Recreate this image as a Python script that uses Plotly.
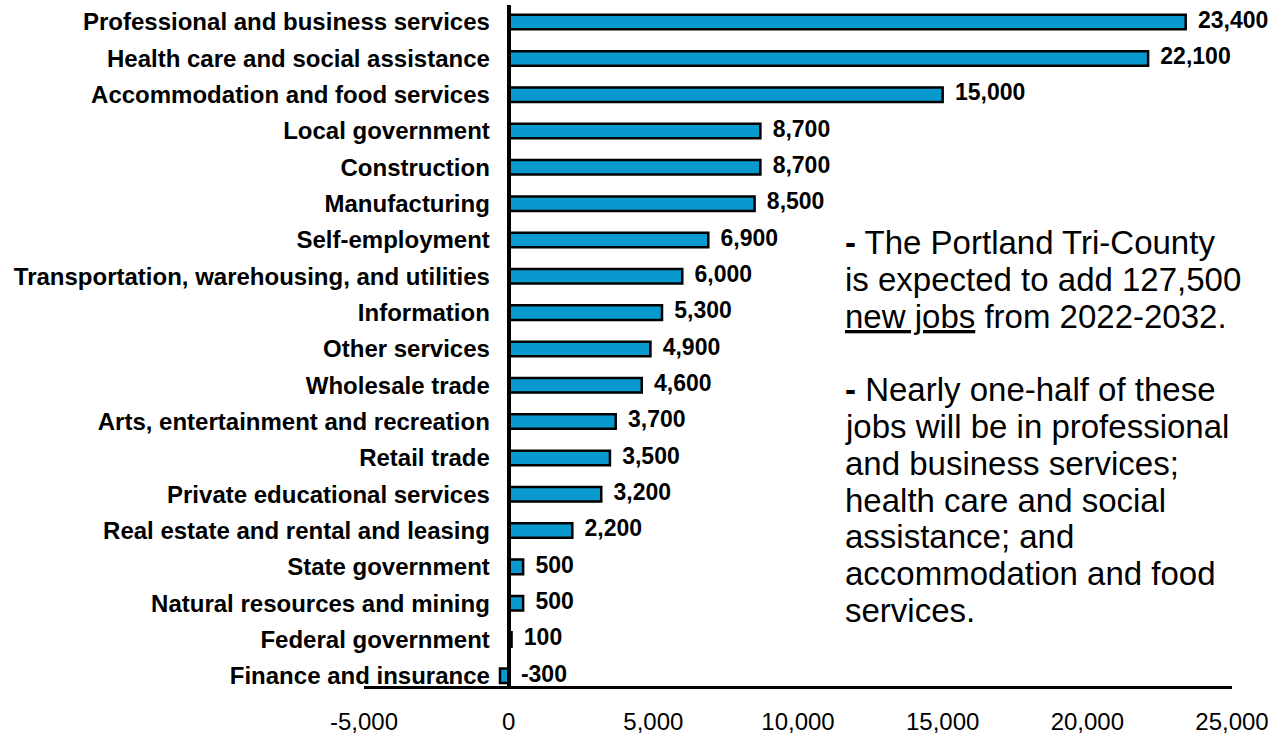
import plotly.graph_objects as go

categories = [
    "Professional and business services",
    "Health care and social assistance",
    "Accommodation and food services",
    "Local government",
    "Construction",
    "Manufacturing",
    "Self-employment",
    "Transportation, warehousing, and utilities",
    "Information",
    "Other services",
    "Wholesale trade",
    "Arts, entertainment and recreation",
    "Retail trade",
    "Private educational services",
    "Real estate and rental and leasing",
    "State government",
    "Natural resources and mining",
    "Federal government",
    "Finance and insurance",
]
values = [23400, 22100, 15000, 8700, 8700, 8500, 6900, 6000, 5300, 4900,
          4600, 3700, 3500, 3200, 2200, 500, 500, 100, -300]
tick_vals = [-5000, 0, 5000, 10000, 15000, 20000, 25000]
tick_text = ["-5,000", "0", "5,000", "10,000", "15,000", "20,000", "25,000"]

note_lines = [
    "<b>-</b> The Portland Tri-County",
    "is expected to add 127,500",
    "<u>new jobs</u> from 2022-2032.",
    "",
    "<b>-</b> Nearly one-half of these",
    "jobs will be in professional",
    "and business services;",
    "health care and social",
    "assistance; and",
    "accommodation and food",
    "services.",
]

FONT = "Arial, Liberation Sans, sans-serif"

W, H = 1278, 739
ml, mr, mt, mb = 364, 46, 5, 53
xmin, xmax = -5000, 25000
zero_frac = (0 - xmin) / (xmax - xmin)
ph = H - mt - mb

fig = go.Figure()
fig.add_trace(go.Bar(
    y=categories, x=values, orientation="h",
    marker=dict(color="#0899CF", line=dict(color="black", width=2.5)),
    width=0.4, hoverinfo="skip", showlegend=False,
))
fig.add_trace(go.Scatter(
    y=categories, x=[max(v, 0) for v in values], mode="markers+text",
    marker=dict(size=18, color="rgba(0,0,0,0)"),
    text=[f"{v:,}" for v in values], textposition="middle right",
    textfont=dict(family=FONT, size=23, color="black", weight="bold"),
    cliponaxis=False, hoverinfo="skip", showlegend=False,
))

annotations = []
note_size = 33
base0, step = 254, 36.8
for i, line in enumerate(note_lines):
    if not line:
        continue
    cy = base0 + i * step - 0.3465 * note_size
    annotations.append(dict(
        text=line, xref="paper", yref="paper",
        x=(843 - ml) / (W - ml - mr), y=1 - (cy - mt) / ph,
        xanchor="left", yanchor="middle", align="left", showarrow=False,
        font=dict(family=FONT, size=note_size, color="black"),
    ))

fig.update_layout(
    width=W, height=H,
    margin=dict(l=ml, r=mr, t=mt, b=mb),
    paper_bgcolor="white", plot_bgcolor="white",
    font=dict(family=FONT, color="black"),
    xaxis=dict(
        range=[xmin, xmax], tickvals=tick_vals, ticktext=tick_text,
        showgrid=False, zeroline=False, showline=True, linecolor="black",
        linewidth=3, ticks="", tickfont=dict(size=24, family=FONT, color="black"),
        ticklabelstandoff=12,
    ),
    yaxis=dict(
        type="category", categoryorder="array", categoryarray=categories,
        range=[18.28, -0.47], anchor="free", position=zero_frac,
        showgrid=False, zeroline=False, showline=True, linecolor="black",
        linewidth=4, ticks="", automargin=False,
        tickfont=dict(size=24, family=FONT, color="black", weight="bold"),
        ticklabelstandoff=12,
    ),
    annotations=annotations,
)

fig.write_html("out.html", config={"displayModeBar": False},
               post_script="document.body.style.margin='0';")
